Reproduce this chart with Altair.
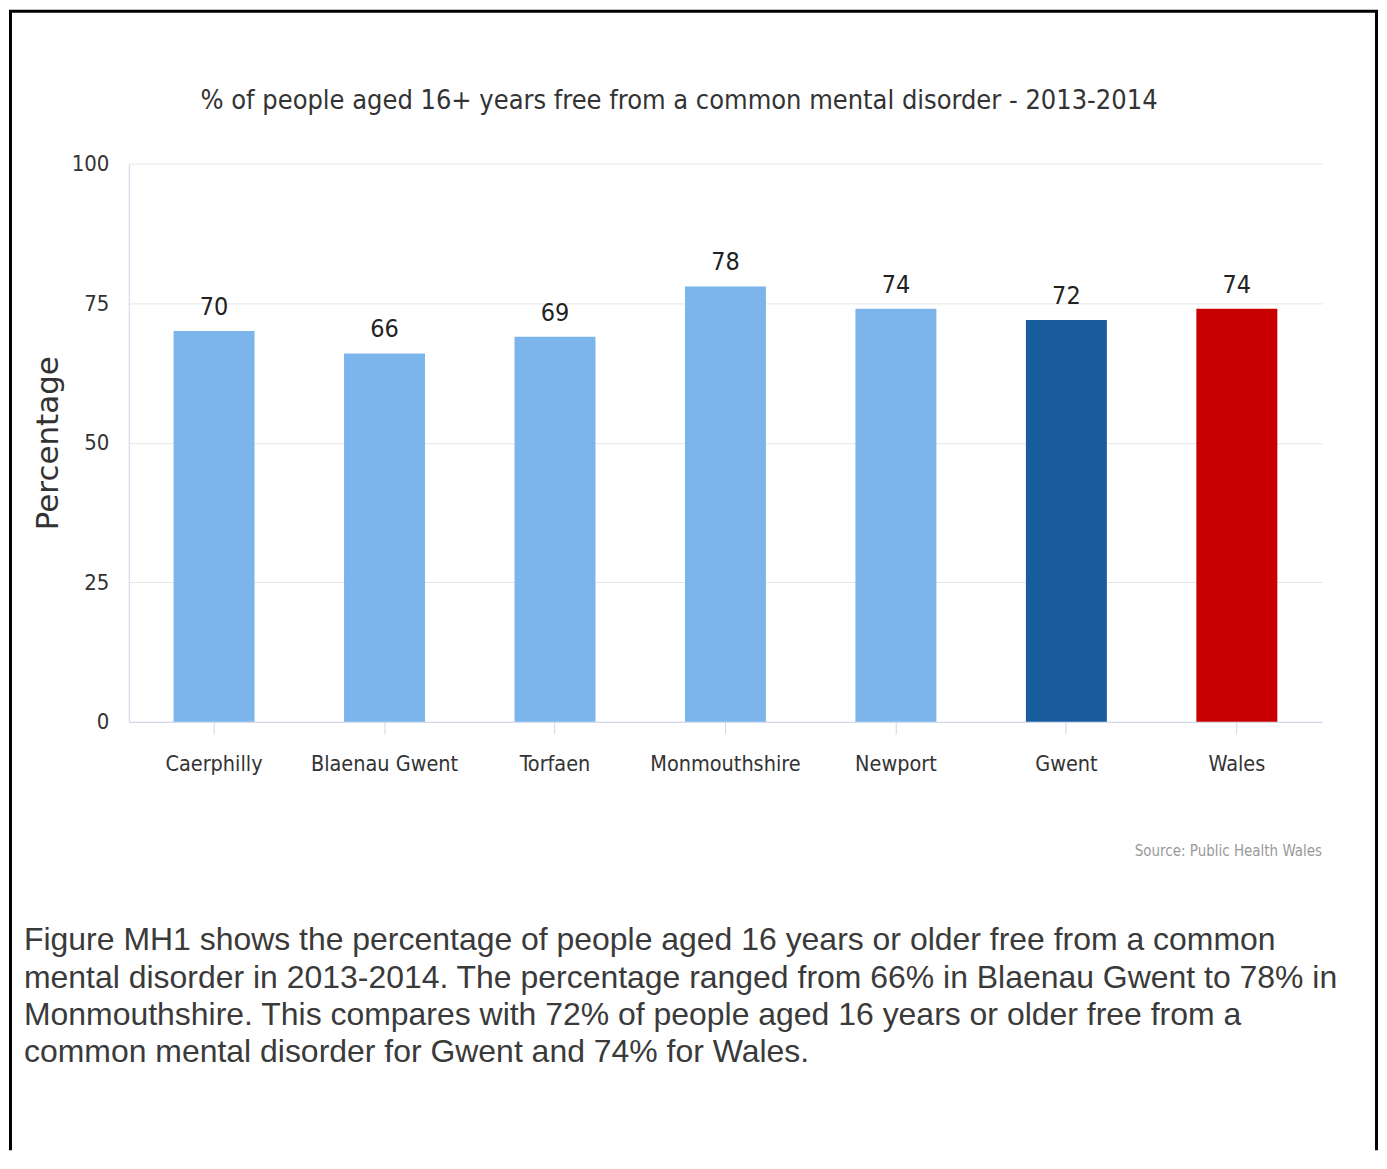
import altair as alt
import pandas as pd

areas = ["Caerphilly", "Blaenau Gwent", "Torfaen", "Monmouthshire", "Newport", "Gwent", "Wales"]
values = [70, 66, 69, 78, 74, 72, 74]
colors = ["#7cb5ec", "#7cb5ec", "#7cb5ec", "#7cb5ec", "#7cb5ec", "#185c9e", "#c80000"]
y_ticks = [0, 25, 50, 75, 100]

title_text = "% of people aged 16+ years free from a common mental disorder - 2013-2014"
source_text = "Source: Public Health Wales"
paragraph_lines = [
    "Figure MH1 shows the percentage of people aged 16 years or older free from a common",
    "mental disorder in 2013-2014. The percentage ranged from 66% in Blaenau Gwent to 78% in",
    "Monmouthshire. This compares with 72% of people aged 16 years or older free from a",
    "common mental disorder for Gwent and 74% for Wales.",
]

NARROW = "Liberation Sans Narrow, DejaVu Sans Condensed, Liberation Sans"

df = pd.DataFrame({"area": areas, "value": values, "color": colors})
one = pd.DataFrame({"k": [0]})

W, H = 1195, 559

x_enc = alt.X(
    "area:N",
    sort=areas,
    title=None,
    scale=alt.Scale(paddingInner=0.525, paddingOuter=0.2625),
    axis=alt.Axis(
        labelAngle=0,
        labelFont=NARROW,
        labelFontSize=21.5,
        labelColor="#333333",
        labelBaseline="alphabetic",
        labelPadding=37,
        labelLimit=0,
        tickSize=12,
        tickColor="#ccd6eb",
        domainColor="#ccd6eb",
        grid=False,
    ),
)
y_enc = alt.Y(
    "value:Q",
    scale=alt.Scale(domain=[0, 100]),
    title="Percentage",
    axis=alt.Axis(
        values=y_ticks,
        labelFont=NARROW,
        labelFontSize=22,
        labelColor="#333333",
        labelPadding=20,
        ticks=False,
        domainColor="#ccd6eb",
        gridColor="#e6e6e6",
        titleFont="DejaVu Sans",
        titleFontSize=31,
        titleFontWeight="normal",
        titleColor="#333333",
        titlePadding=7,
    ),
)

bars = alt.Chart(df).mark_bar().encode(
    x=x_enc,
    y=y_enc,
    color=alt.Color("color:N", scale=None),
)

labels = alt.Chart(df).mark_text(
    font=NARROW, fontSize=25, color="#222222", baseline="alphabetic", dy=-16
).encode(
    x=alt.X("area:N", sort=areas),
    y="value:Q",
    text=alt.Text("value:Q", format=".0f"),
)

title = alt.Chart(one).mark_text(
    font=NARROW, fontSize=27, color="#333333", align="center", baseline="alphabetic"
).encode(x=alt.value(551), y=alt.value(-55), text=alt.value(title_text))

source = alt.Chart(one).mark_text(
    font=NARROW, fontSize=15, color="#999999", align="right", baseline="alphabetic"
).encode(x=alt.value(1195), y=alt.value(693), text=alt.value(source_text))

paragraph = alt.Chart(one).mark_text(
    font="Liberation Sans", fontSize=32, color="#3a3a3a", align="left",
    baseline="alphabetic", lineHeight=37.3,
).encode(x=alt.value(-105), y=alt.value(788), text=alt.value(paragraph_lines))

border_left = alt.Chart(one).mark_rule(color="#000000", strokeWidth=3).encode(
    x=alt.value(-118.5), y=alt.value(-152.5), y2=alt.value(988)
)
border_right = alt.Chart(one).mark_rule(color="#000000", strokeWidth=3).encode(
    x=alt.value(1249.5), y=alt.value(-152.5), y2=alt.value(988)
)
border_top = alt.Chart(one).mark_rule(color="#000000", strokeWidth=3, strokeCap="square").encode(
    x=alt.value(-118.5), x2=alt.value(1249.5), y=alt.value(-152.5)
)

chart = alt.layer(
    bars, labels, title, source, paragraph, border_left, border_right, border_top
).properties(
    width=W, height=H, padding=0, background="#ffffff"
).configure_view(stroke=None)

chart.save("out.html", embed_options={"renderer": "svg", "actions": False})
